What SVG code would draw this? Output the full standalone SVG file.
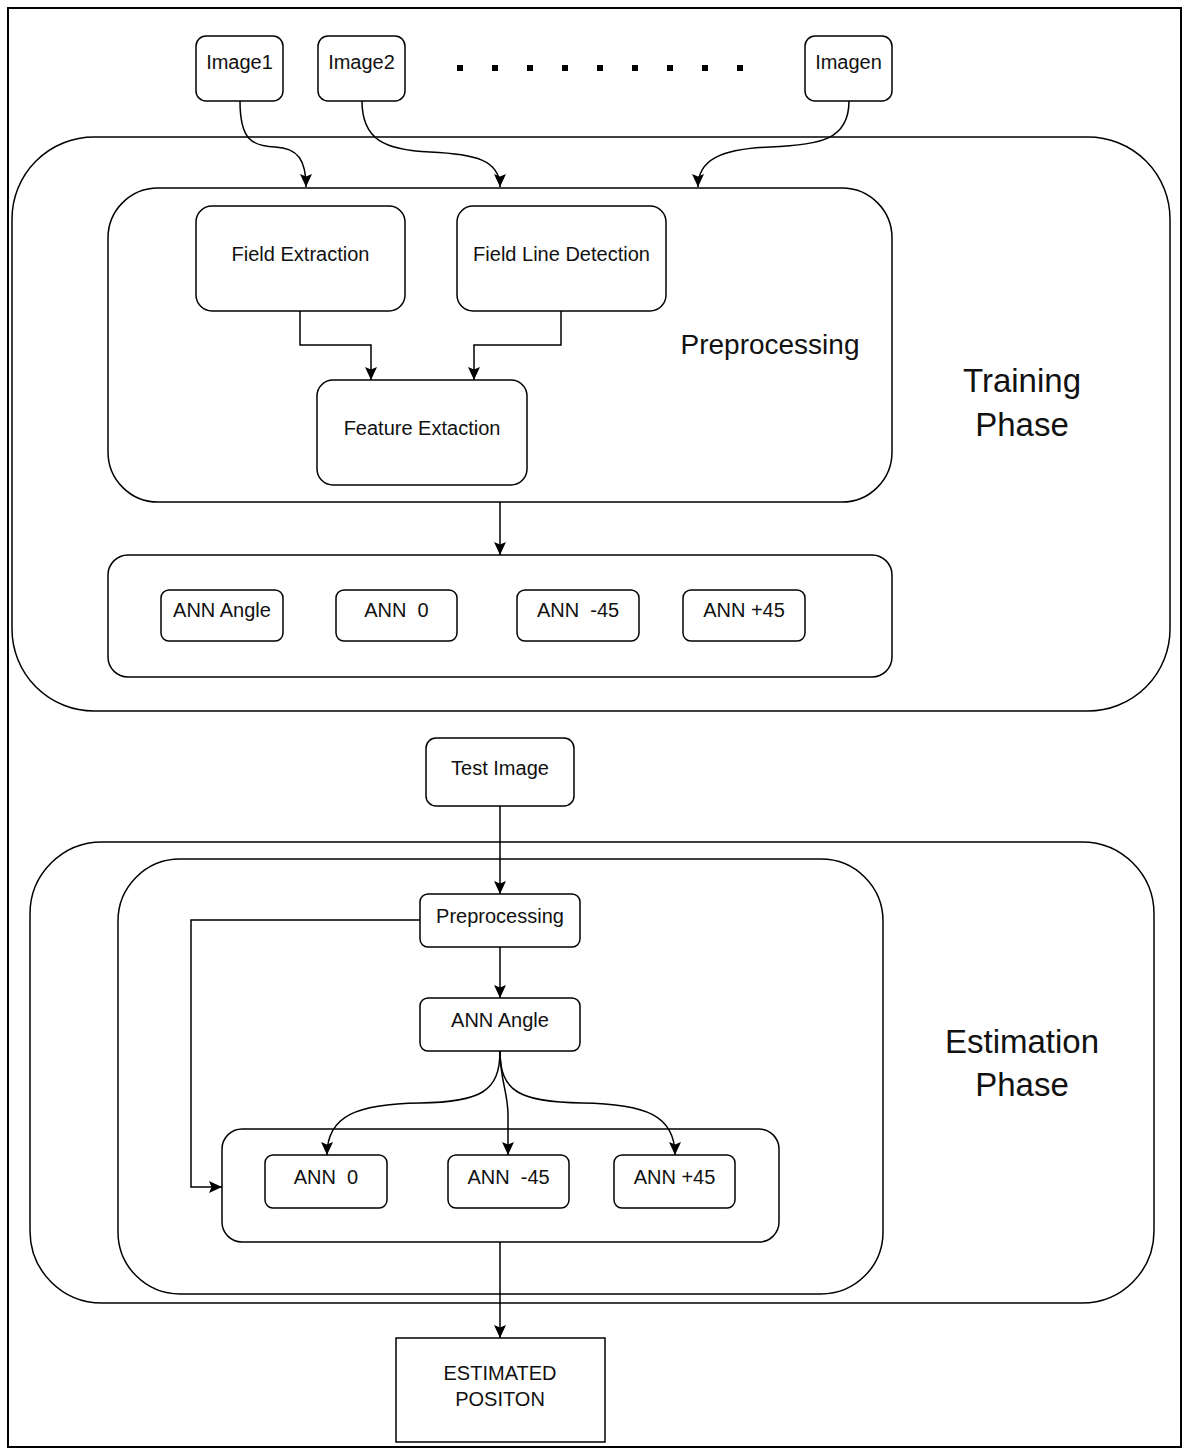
<svg xmlns="http://www.w3.org/2000/svg" width="1184" height="1448" viewBox="0 0 1184 1448">
<style>
.b{fill:#fff;stroke:#000;stroke-width:1.5}
.c{fill:none;stroke:#000;stroke-width:1.5}
.t{font-family:"Liberation Sans",Arial,sans-serif;font-size:20px;fill:#111;text-anchor:middle}
.L{font-family:"Liberation Sans",Arial,sans-serif;font-size:33px;fill:#111;text-anchor:middle}
</style>
<defs>
<marker id="a" markerUnits="userSpaceOnUse" markerWidth="14" markerHeight="14" refX="13" refY="7" orient="auto" viewBox="0 0 14 14">
<path d="M0,1 L13,7 L0,13 L2.5,7 z" fill="#000"/>
</marker>
</defs>
<rect x="0" y="0" width="1184" height="1448" fill="#fff"/>
<rect id="frame" x="8" y="8" width="1173" height="1439" fill="none" stroke="#000" stroke-width="2"/>

<g id="training-phase">
<rect class="b" x="12" y="137" width="1158" height="574" rx="82" ry="82"/>
<text class="L" x="1022" y="392">Training</text>
<text class="L" x="1022" y="436">Phase</text>
</g>
<g id="preprocessing-group">
<rect class="b" x="108" y="188" width="784" height="314" rx="50" ry="50"/>
<text class="L" x="770" y="354" style="font-size:28px">Preprocessing</text>
</g>
<g id="ann-group-train">
<rect class="b" x="108" y="555" width="784" height="122" rx="20" ry="20"/>
</g>
<g id="estimation-phase">
<rect class="b" x="30" y="842" width="1124" height="461" rx="72" ry="72"/>
<text class="L" x="1022" y="1053">Estimation</text>
<text class="L" x="1022" y="1096">Phase</text>
</g>
<g id="estimation-inner">
<rect class="b" x="118" y="859" width="765" height="435" rx="62" ry="62"/>
</g>
<g id="ann-group-est">
<rect class="b" x="222" y="1129" width="557" height="113" rx="20" ry="20"/>
</g>

<g id="image1"><rect class="b" x="196" y="36" width="87" height="65" rx="10"/><text class="t" x="239.5" y="69">Image1</text></g>
<g id="image2"><rect class="b" x="318" y="36" width="87" height="65" rx="10"/><text class="t" x="361.5" y="69">Image2</text></g>
<g id="imagen"><rect class="b" x="805" y="36" width="87" height="65" rx="10"/><text class="t" x="848.5" y="69">Imagen</text></g>
<g id="dots" fill="#000">
<rect x="457" y="65" width="6" height="6"/><rect x="492" y="65" width="6" height="6"/><rect x="527" y="65" width="6" height="6"/><rect x="562" y="65" width="6" height="6"/><rect x="597" y="65" width="6" height="6"/><rect x="632" y="65" width="6" height="6"/><rect x="667" y="65" width="6" height="6"/><rect x="702" y="65" width="6" height="6"/><rect x="737" y="65" width="6" height="6"/>
</g>

<g id="field-extraction"><rect class="b" x="196" y="206" width="209" height="105" rx="16"/><text class="t" x="300.5" y="261">Field Extraction</text></g>
<g id="field-line-detection"><rect class="b" x="457" y="206" width="209" height="105" rx="16"/><text class="t" x="561.5" y="261">Field Line Detection</text></g>
<g id="feature-extaction"><rect class="b" x="317" y="380" width="210" height="105" rx="16"/><text class="t" x="422" y="435">Feature Extaction</text></g>

<g id="t-ann-angle"><rect class="b" x="161" y="590" width="122" height="51" rx="8"/><text class="t" x="222" y="617">ANN Angle</text></g>
<g id="t-ann-0"><rect class="b" x="336" y="590" width="121" height="51" rx="8"/><text class="t" x="396.5" y="617" xml:space="preserve">ANN  0</text></g>
<g id="t-ann-m45"><rect class="b" x="517" y="590" width="122" height="51" rx="8"/><text class="t" x="578" y="617" xml:space="preserve">ANN  -45</text></g>
<g id="t-ann-p45"><rect class="b" x="683" y="590" width="122" height="51" rx="8"/><text class="t" x="744" y="617">ANN +45</text></g>

<g id="test-image"><rect class="b" x="426" y="738" width="148" height="68" rx="10"/><text class="t" x="500" y="775">Test Image</text></g>
<g id="e-preprocessing"><rect class="b" x="420" y="894" width="160" height="53" rx="8"/><text class="t" x="500" y="923">Preprocessing</text></g>
<g id="e-ann-angle"><rect class="b" x="420" y="998" width="160" height="53" rx="8"/><text class="t" x="500" y="1027">ANN Angle</text></g>
<g id="e-ann-0"><rect class="b" x="265" y="1155" width="122" height="53" rx="8"/><text class="t" x="326" y="1184" xml:space="preserve">ANN  0</text></g>
<g id="e-ann-m45"><rect class="b" x="448" y="1155" width="121" height="53" rx="8"/><text class="t" x="508.5" y="1184" xml:space="preserve">ANN  -45</text></g>
<g id="e-ann-p45"><rect class="b" x="614" y="1155" width="121" height="53" rx="8"/><text class="t" x="674.5" y="1184">ANN +45</text></g>

<g id="estimated-position"><rect class="b" x="396" y="1338" width="209" height="104"/><text class="t" x="500" y="1380">ESTIMATED</text><text class="t" x="500" y="1406">POSITON</text></g>

<g id="connectors" class="c">
<path class="c" marker-end="url(#a)" d="M240,101 C240,140 252,146 275,147 C298,148 306,160 306,187"/>
<path class="c" marker-end="url(#a)" d="M362,101 C362,140 385,150 430,152 C475,154 500,160 500,187"/>
<path class="c" marker-end="url(#a)" d="M849,101 C849,140 820,145 770,147 C720,149 698,160 698,187"/>
<path class="c" marker-end="url(#a)" d="M300,311 V345 H371 V380"/>
<path class="c" marker-end="url(#a)" d="M561,311 V345 H474 V380"/>
<path class="c" marker-end="url(#a)" d="M500,502 V555"/>
<path class="c" marker-end="url(#a)" d="M500,806 V894"/>
<path class="c" marker-end="url(#a)" d="M500,947 V998"/>
<path class="c" marker-end="url(#a)" d="M420,920 H191 V1187 H222"/>
<path class="c" marker-end="url(#a)" d="M500,1051 C500,1092 480,1102 420,1103 C358,1104 327,1115 327,1155"/>
<path class="c" marker-end="url(#a)" d="M500,1051 C500,1080 508,1092 508,1115 L508,1155"/>
<path class="c" marker-end="url(#a)" d="M500,1051 C500,1092 520,1102 582,1103 C645,1104 675,1115 675,1155"/>
<path class="c" marker-end="url(#a)" d="M500,1242 V1338"/>
</g>
</svg>
